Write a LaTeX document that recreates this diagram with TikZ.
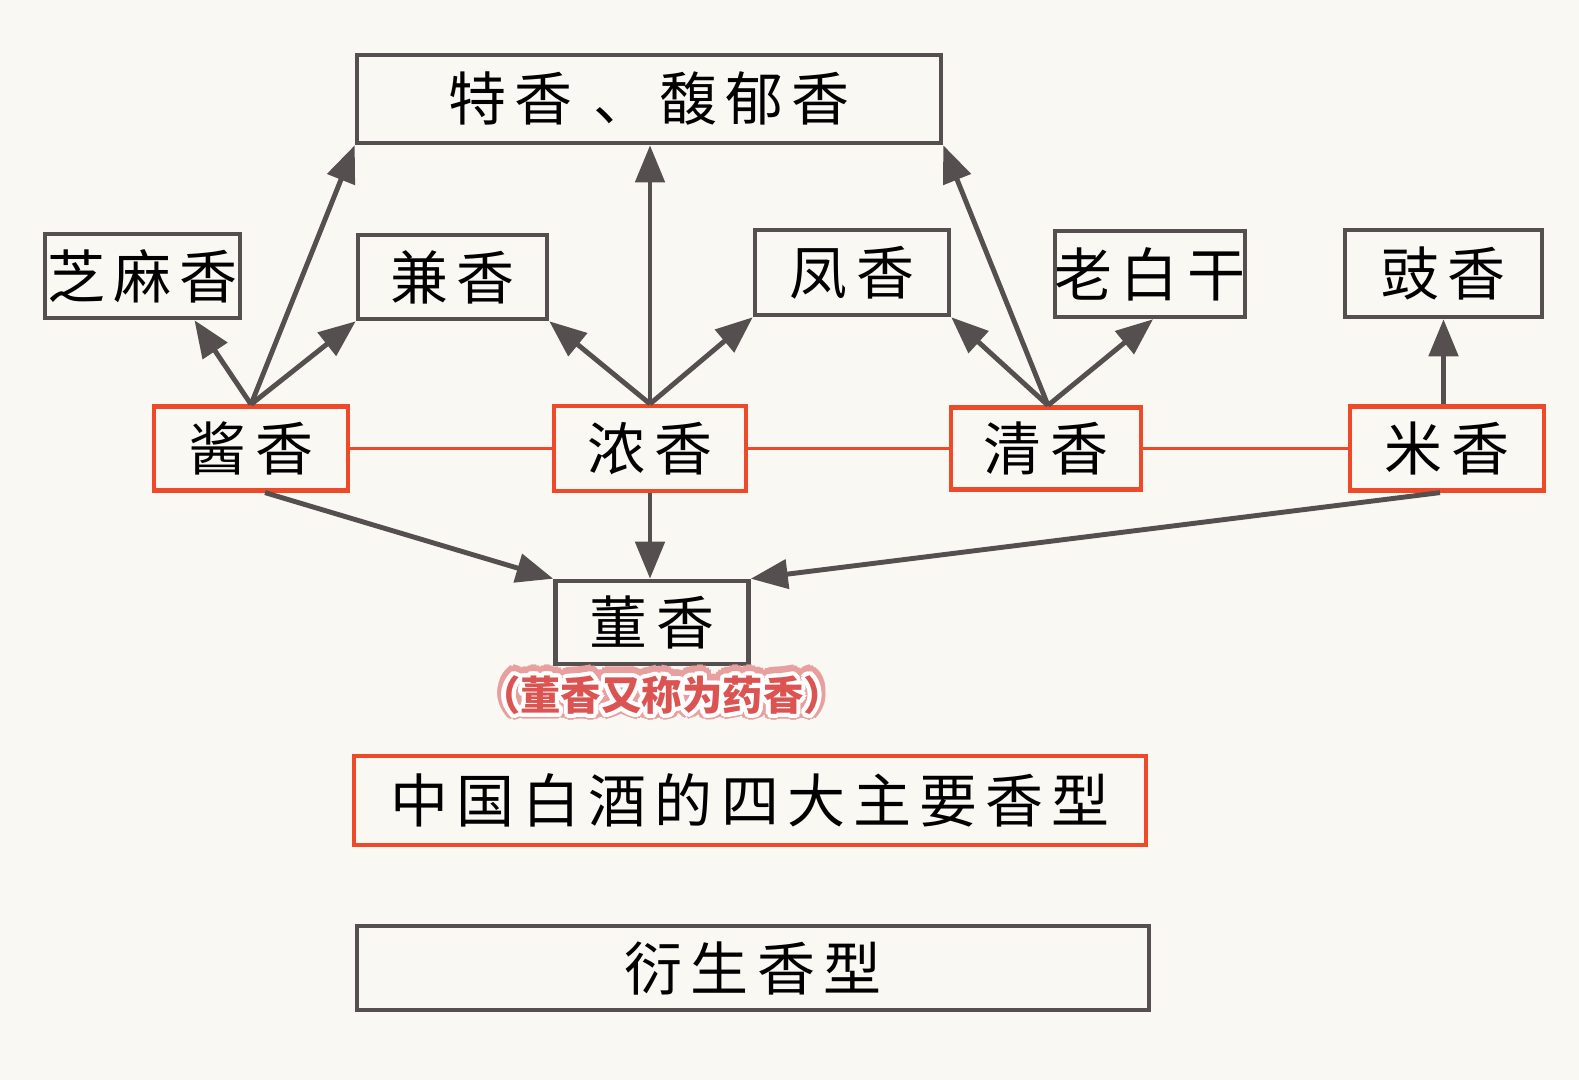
\documentclass[tikz,border=0pt]{standalone}
\usepackage{fontspec}
\usepackage{contour}
\setmainfont{Noto Sans CJK SC}[LetterSpace=14]
\newfontfamily\notefont{Noto Sans CJK SC}
\usetikzlibrary{positioning, arrows.meta, calc}

\definecolor{bggray}{HTML}{FAF8F3}
\definecolor{linegray}{HTML}{55504F}
\definecolor{boxred}{HTML}{EE4A2A}
\definecolor{notered}{HTML}{DB5452}
\definecolor{noteshade}{HTML}{E8A09E}

\begin{document}
\begin{tikzpicture}[font=\fontsize{16.5}{19}\selectfont, inner sep=0pt,
        subbox/.style={draw=linegray, line width=1.3pt, fill=bggray},
        mainbox/.style={draw=boxred, line width=1.2pt, fill=bggray},
        arr/.style={draw=linegray, line width=1.4pt, -{Triangle[length=0.37cm, width=0.29cm]}},
        link/.style={draw=boxred, line width=1.1pt}]

        \useasboundingbox (0,0) rectangle (15.79,-10.80);
        \fill[bggray] (0,0) rectangle (15.79,-10.80);

        %DERIVED TYPES
        \node[subbox, minimum width=5.84cm, minimum height=0.88cm] (tx)     at (6.49,-0.99)   {特香 、馥郁香};
        \node[subbox, minimum width=1.95cm, minimum height=0.84cm] (zhima)  at (1.425,-2.76)  {芝麻香};
        \node[subbox, minimum width=1.89cm, minimum height=0.84cm] (jian)   at (4.525,-2.77)  {兼香};
        \node[subbox, minimum width=1.94cm, minimum height=0.85cm] (feng)   at (8.52,-2.725)  {凤香};
        \node[subbox, minimum width=1.90cm, minimum height=0.86cm] (laobai) at (11.50,-2.74)  {老白干};
        \node[subbox, minimum width=1.97cm, minimum height=0.87cm] (chi)    at (14.435,-2.735) {豉香};

        %MAIN TYPES
        \node[mainbox, minimum width=1.94cm, minimum height=0.84cm] (jiang) at (2.51,-4.485)  {酱香};
        \node[mainbox, minimum width=1.92cm, minimum height=0.85cm] (nong)  at (6.50,-4.485) {浓香};
        \node[mainbox, minimum width=1.90cm, minimum height=0.82cm] (qing)  at (10.46,-4.485) {清香};
        \node[mainbox, minimum width=1.94cm, minimum height=0.84cm] (mi)    at (14.47,-4.485) {米香};

        \node[subbox, minimum width=1.93cm, minimum height=0.83cm] (dong) at (6.52,-6.225) {董香};

        % NOTE (WHITE OUTLINE, PINK SHADOW)
        \node[font=\notefont\bfseries\fontsize{11.5}{13}\selectfont, text=noteshade] (noteshade) at (6.62,-6.97)
            {\contourlength{2.4pt}\contour{noteshade}{（董香又称为药香）}};
        \node[font=\notefont\bfseries\fontsize{11.5}{13}\selectfont, text=notered] (note) at (6.62,-6.97)
            {\contourlength{1.2pt}\contour{white}{（董香又称为药香）}};

        %LEGEND
        \node[mainbox, minimum width=7.92cm, minimum height=0.89cm] (legmain) at (7.50,-8.005) {中国白酒的四大主要香型};
        \node[subbox, minimum width=7.92cm, minimum height=0.84cm] (legder) at (7.53,-9.68) {衍生香型};

        %LINKS
        \draw[link] (jiang.east) -- (nong.west);
        \draw[link] (nong.east) -- (qing.west);
        \draw[link] (qing.east) -- (mi.west);

        %ARROWS UP
        \draw[arr] (jiang.north) -- ([xshift=0.52cm]zhima.south);
        \draw[arr] (jiang.north) -- (jian.south west);
        \draw[arr] (jiang.north) -- (tx.south west);
        \draw[arr] (nong.north) -- (jian.south east);
        \draw[arr] (nong.north) -- (nong.north |- tx.south);
        \draw[arr] (nong.north) -- (feng.south west);
        \draw[arr] ([xshift=0.02cm]qing.north) -- (feng.south east);
        \draw[arr] ([xshift=0.02cm]qing.north) -- (tx.south east);
        \draw[arr] ([xshift=0.02cm]qing.north) -- ([xshift=0.03cm]laobai.south);
        \draw[arr] (chi.south |- mi.north) -- (chi.south);

        %ARROWS DOWN
        \draw[arr] ([xshift=0.14cm]jiang.south) -- (dong.north west);
        \draw[arr] (nong.south) -- (nong.south |- dong.north);
        \draw[arr] ([xshift=-0.07cm]mi.south) -- (dong.north east);

    \end{tikzpicture}
\end{document}
